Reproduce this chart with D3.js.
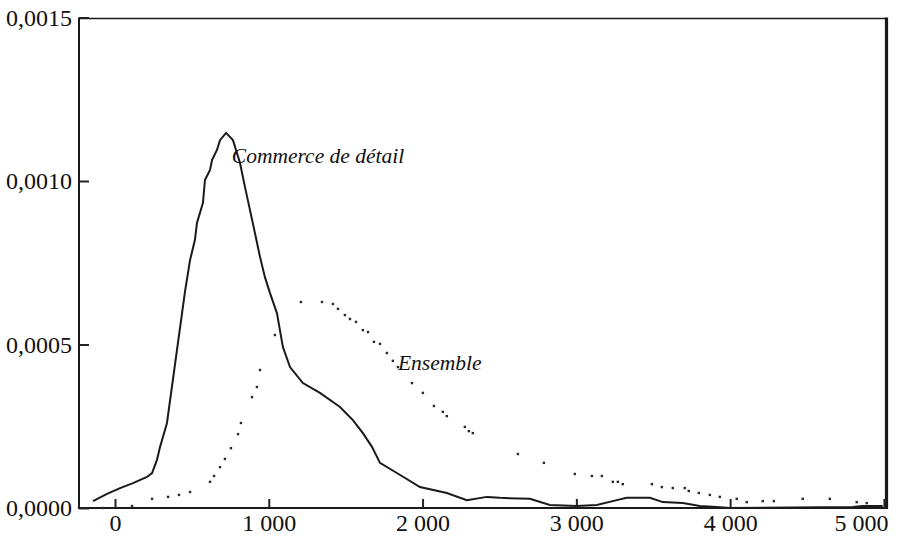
<!DOCTYPE html>
<html lang="fr">
<head>
<meta charset="utf-8">
<script src="https://cdn.jsdelivr.net/npm/d3@7"></script>
</head>
<body style="margin:0;background:#fff">
<svg id="chart" width="898" height="536" style="display:block"></svg>
<script>
// Revenu (x) and estimated density (y), two kernel-density curves
const xTicks = [0, 1000, 2000, 3000, 4000, 5000];
const yTicks = [0, 0.0005, 0.0010, 0.0015];

// "Commerce de détail" — solid curve
const commerceX = [-143, -52, 33, 117, 208, 241, 273, 293, 312, 338, 455, 488, 520, 533, 572, 585, 618, 631, 663, 683, 722, 767, 813, 845, 878, 910, 943, 975, 1008, 1053, 1092, 1138, 1222, 1333, 1463, 1547, 1612, 1671, 1723, 1833, 1983, 2158, 2288, 2418, 2503, 2698, 2828, 3003, 3133, 3263, 3328, 3478, 3562, 3692, 3803, 3913, 3998, 4797, 4862, 4992];
const commerceY = [0.000021, 0.000043, 0.000061, 0.000076, 0.000095, 0.000107, 0.000147, 0.000187, 0.000217, 0.000260, 0.000661, 0.000758, 0.000820, 0.000872, 0.000933, 0.001003, 0.001034, 0.001064, 0.001095, 0.001125, 0.001147, 0.001125, 0.001055, 0.000982, 0.000911, 0.000841, 0.000768, 0.000706, 0.000657, 0.000596, 0.000492, 0.000431, 0.000382, 0.000352, 0.000309, 0.000269, 0.000229, 0.000187, 0.000138, 0.000107, 0.000064, 0.000046, 0.000024, 0.000034, 0.000031, 0.000028, 0.000009, 0.000006, 0.000009, 0.000024, 0.000031, 0.000031, 0.000018, 0.000015, 0.000006, 0.000003, 0.000000, 0.000003, 0.000006, 0.000006];

// "Ensemble" — dotted curve
const ensembleX = [-78, 111, 241, 345, 416, 488, 618, 644, 683, 715, 754, 800, 819, 891, 923, 943, 1040, 1209, 1346, 1417, 1450, 1495, 1528, 1567, 1612, 1645, 1684, 1723, 1768, 1807, 1840, 1931, 2002, 2074, 2132, 2158, 2275, 2301, 2327, 2620, 2789, 2990, 3101, 3166, 3237, 3270, 3302, 3491, 3556, 3627, 3705, 3731, 3796, 3868, 3933, 4043, 4108, 4212, 4284, 4472, 4648, 4823, 4888];
const ensembleY = [0.000000, 0.000006, 0.000028, 0.000034, 0.000040, 0.000049, 0.000080, 0.000098, 0.000125, 0.000150, 0.000183, 0.000226, 0.000260, 0.000339, 0.000370, 0.000422, 0.000529, 0.000630, 0.000630, 0.000624, 0.000609, 0.000590, 0.000578, 0.000569, 0.000544, 0.000538, 0.000508, 0.000502, 0.000474, 0.000450, 0.000431, 0.000382, 0.000352, 0.000312, 0.000294, 0.000281, 0.000248, 0.000235, 0.000229, 0.000165, 0.000138, 0.000104, 0.000098, 0.000098, 0.000080, 0.000080, 0.000073, 0.000073, 0.000064, 0.000061, 0.000061, 0.000052, 0.000046, 0.000040, 0.000034, 0.000028, 0.000018, 0.000021, 0.000021, 0.000028, 0.000028, 0.000018, 0.000015];

// Series labels, anchored at a data position
const labels = [
  { text: "Commerce de détail", x: 760, y: 0.001055 },
  { text: "Ensemble", x: 1840, y: 0.000423 }
];

const SERIF = "'Liberation Serif', 'Times New Roman', serif";
const fr = d3.formatLocale({ decimal: ",", thousands: " ", grouping: [3], currency: ["", " €"] });

const svg = d3.select("#chart");
const plot = { left: 79, right: 885, top: 17.5, bottom: 508 };

const x = d3.scaleLinear().domain([-234, 5007]).range([plot.left, plot.right]);
const y = d3.scaleLinear().domain([0, 0.0015]).range([plot.bottom, plot.top]);

// Plot frame
const frame = svg.append("g").attr("stroke", "#1a1a1a").attr("fill", "none");
frame.append("line").attr("x1", plot.left).attr("x2", plot.right + 2).attr("y1", 18.5).attr("y2", 18.5).attr("stroke-width", 1.6);
frame.append("line").attr("x1", plot.right + 1.5).attr("x2", plot.right + 1.5).attr("y1", 17.5).attr("y2", plot.bottom + 1).attr("stroke-width", 3.2);
frame.append("line").attr("x1", plot.left).attr("x2", plot.left).attr("y1", 17.5).attr("y2", plot.bottom + 1).attr("stroke-width", 2);
frame.append("line").attr("x1", plot.left - 1).attr("x2", plot.right + 3).attr("y1", plot.bottom).attr("y2", plot.bottom).attr("stroke-width", 2);

function styleAxis(g) {
  g.select(".domain").remove();
  g.selectAll(".tick line").attr("stroke", "#222").attr("stroke-width", 2);
  g.selectAll(".tick text")
    .style("font-family", SERIF).style("font-size", "24px").attr("fill", "#111");
}

// Axes with inward ticks
const yAxis = d3.axisLeft(y).tickValues(yTicks).tickFormat(fr.format(",.4f"))
  .tickSizeInner(-10).tickSizeOuter(0).tickPadding(7);
svg.append("g").attr("transform", `translate(${plot.left},0)`).call(yAxis).call(styleAxis);

const xAxis = d3.axisBottom(x).tickValues(xTicks).tickFormat(fr.format(",d"))
  .tickSizeInner(-9).tickSizeOuter(0).tickPadding(6);
const gx = svg.append("g").attr("transform", `translate(0,${plot.bottom})`).call(xAxis).call(styleAxis);
// keep the last label inside the window
gx.selectAll(".tick text").filter(d => d === 5000).attr("text-anchor", "end").attr("dx", 4);

// Solid curve
const commerce = commerceX.map((v, i) => [v, commerceY[i]]);
const line = d3.line().x(d => x(d[0])).y(d => y(d[1]));
svg.append("path").datum(commerce)
  .attr("fill", "none").attr("stroke", "#1a1a1a").attr("stroke-width", 2)
  .attr("stroke-linejoin", "miter").attr("d", line);

// Dotted curve
const ensemble = ensembleX.map((v, i) => [v, ensembleY[i]]);
svg.append("g").selectAll("rect").data(ensemble).join("rect")
  .attr("x", d => x(d[0]) - 1.2).attr("y", d => y(d[1]) - 1.2)
  .attr("width", 2.4).attr("height", 2.4).attr("fill", "#2a2a2a");

// Series labels
svg.append("g").selectAll("text").data(labels).join("text")
  .style("font-family", SERIF).style("font-style", "italic").style("font-size", "21.5px")
  .attr("fill", "#111")
  .attr("x", d => x(d.x)).attr("y", d => y(d.y))
  .text(d => d.text);
</script>
</body>
</html>
